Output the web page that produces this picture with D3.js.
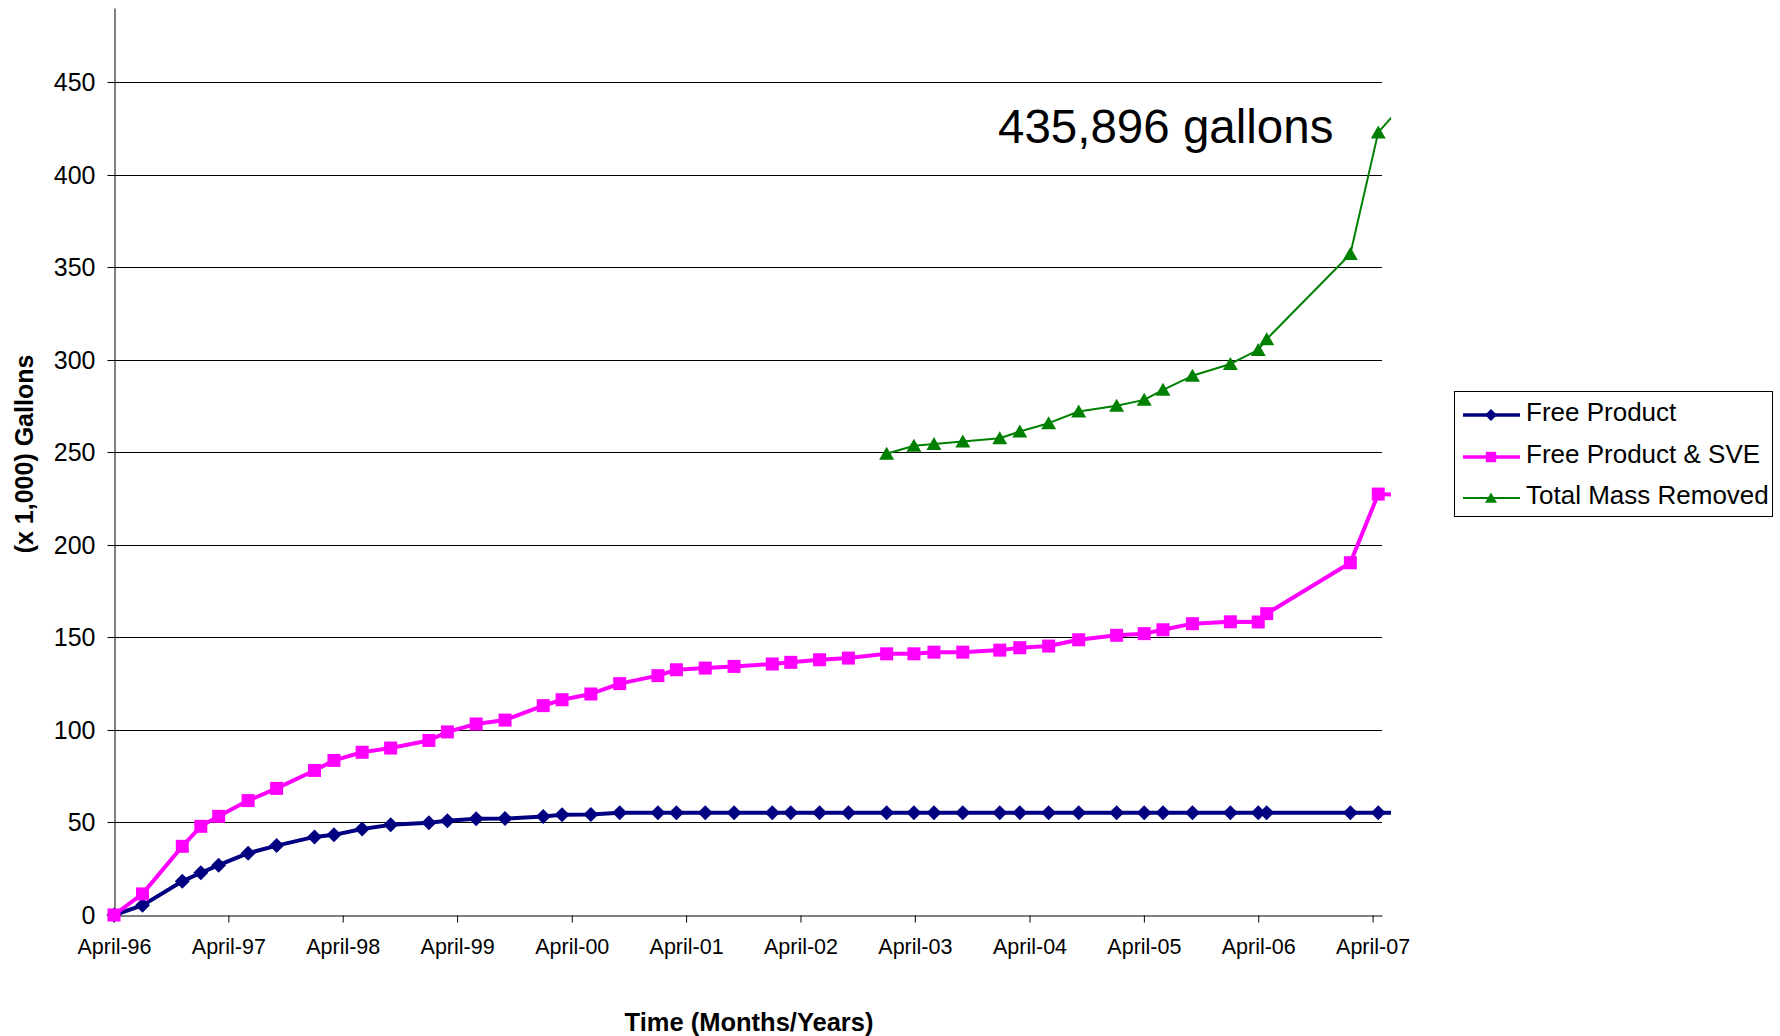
<!DOCTYPE html>
<html>
<head>
<meta charset="utf-8">
<script src="https://cdn.jsdelivr.net/npm/d3@7"></script>
<style>
  body { margin: 0; background: #fff; }
  svg { display: block; }
  text { font-family: Arial, "Liberation Sans", sans-serif; fill: #000; }
</style>
</head>
<body>
<svg id="chart" width="1780" height="1036"></svg>
<script>
// Sampling dates shared by all three cumulative series
const sampleDates = [
  "1996-04-01", "1996-07-01", "1996-11-05", "1997-01-03", "1997-03-01", "1997-06-03",
  "1997-09-02", "1998-01-01", "1998-03-04", "1998-06-02", "1998-09-01", "1999-01-01",
  "1999-03-01", "1999-06-01", "1999-09-01", "2000-01-01", "2000-03-01", "2000-06-01",
  "2000-09-01", "2001-01-01", "2001-03-01", "2001-06-01", "2001-09-01", "2002-01-01",
  "2002-03-01", "2002-06-01", "2002-09-01", "2003-01-01", "2003-03-29", "2003-06-01",
  "2003-09-01", "2003-12-28", "2004-03-01", "2004-06-01", "2004-09-05", "2005-01-04",
  "2005-04-02", "2005-06-01", "2005-09-03", "2006-01-02", "2006-04-01", "2006-04-28",
  "2007-01-20", "2007-04-19", "2007-06-27"
];

// Cumulative gallons recovered (x 1,000)
const freeProduct = [
  0, 5.2, 18.2, 22.8, 26.9, 33.4, 37.5, 42.2, 43.3, 46.5, 48.7, 49.8,
  50.9, 52.0, 52.1, 53.2, 54.2, 54.3, 55.3, 55.3, 55.3, 55.3, 55.3, 55.3,
  55.3, 55.3, 55.3, 55.3, 55.3, 55.3, 55.3, 55.3, 55.3, 55.3, 55.3, 55.3,
  55.3, 55.3, 55.3, 55.3, 55.3, 55.3, 55.3, 55.3, 55.3
];
const freeProductSVE = [
  0, 11.4, 37.1, 47.9, 53.3, 61.8, 68.4, 78.1, 83.5, 87.9, 90.2, 94.3,
  98.9, 103.2, 105.3, 113.1, 116.3, 119.4, 125.0, 129.3, 132.5, 133.4, 134.3, 135.6,
  136.5, 137.9, 138.8, 141.1, 141.1, 142.0, 142.0, 143.1, 144.4, 145.3, 148.7, 151.1,
  152.0, 154.1, 157.4, 158.4, 158.3, 162.8, 190.3, 227.4, 227.0
];
// Total mass removed is tracked from January 2003 onward
const totalMassFirstIndex = 27;
const totalMassRemoved = [
  249.2, 253.5, 254.5, 255.8, 257.6, 261.2, 265.7, 272.0, 275.1,
  278.3, 283.7, 291.3, 297.7, 305.3, 311.1, 357.1, 422.8, 435.896
];

const seriesNames = ["Free Product", "Free Product & SVE", "Total Mass Removed"];
const yTicks = [0, 50, 100, 150, 200, 250, 300, 350, 400, 450];
const xTickYears = [1996, 1997, 1998, 1999, 2000, 2001, 2002, 2003, 2004, 2005, 2006, 2007];
const totalLabel = "435,896 gallons";
const yTitle = "(x 1,000) Gallons";
const xTitle = "Time (Months/Years)";

const parse = d3.timeParse("%Y-%m-%d");
const dates = sampleDates.map(parse);

const svg = d3.select("#chart");
const plotLeft = 114, plotRight = 1382, plotBottom = 915, plotTop = 8;

const x = d3.scaleTime()
  .domain([new Date(1996, 3, 1), new Date(2007, 4, 1)])
  .range([plotLeft, plotRight]);
const y = d3.scaleLinear()
  .domain([0, 490])
  .range([plotBottom, plotTop]);

const crisp = v => Math.round(v) + 0.5;

// Horizontal gridlines
svg.append("g")
  .selectAll("line")
  .data(yTicks.filter(t => t > 0))
  .join("line")
  .attr("x1", plotLeft).attr("x2", plotRight)
  .attr("y1", d => crisp(y(d))).attr("y2", d => crisp(y(d)))
  .attr("stroke", "#000").attr("stroke-width", 1);

// Y axis
const yAxis = svg.append("g")
  .attr("transform", `translate(${plotLeft + 0.5},0)`)
  .call(d3.axisLeft(y).tickValues(yTicks).tickFormat(d3.format("d"))
    .tickSize(7).tickSizeOuter(0).tickPadding(12));
yAxis.select(".domain").attr("stroke", "#000");
yAxis.selectAll(".tick line").attr("stroke", "#000");
yAxis.selectAll(".tick").attr("transform", d => `translate(0,${crisp(y(d))})`);
yAxis.selectAll(".tick text")
  .attr("font-size", 25).attr("font-family", "Arial, 'Liberation Sans', sans-serif")
  .attr("fill", "#000");

// X axis
const xAxis = svg.append("g")
  .attr("transform", `translate(0,${plotBottom + 0.5})`)
  .call(d3.axisBottom(x)
    .tickValues(xTickYears.map(yr => new Date(yr, 3, 1)))
    .tickFormat(d3.timeFormat("April-%y"))
    .tickSize(7).tickSizeOuter(0).tickPadding(16));
xAxis.select(".domain").attr("stroke", "#000");
xAxis.selectAll(".tick line").attr("stroke", "#000");
xAxis.selectAll(".tick text")
  .attr("font-size", 21.5).attr("font-family", "Arial, 'Liberation Sans', sans-serif")
  .attr("fill", "#000");

// Axis titles
svg.append("text")
  .attr("transform", "translate(33,454) rotate(-90)")
  .attr("text-anchor", "middle")
  .attr("font-size", 25).attr("font-weight", "bold")
  .text(yTitle);
svg.append("text")
  .attr("x", 749).attr("y", 1031)
  .attr("text-anchor", "middle")
  .attr("font-size", 25.5).attr("font-weight", "bold")
  .text(xTitle);

// Series data
const fpData = dates.map((d, i) => ({ date: d, v: freeProduct[i] }));
const sveData = dates.map((d, i) => ({ date: d, v: freeProductSVE[i] }));
const totalData = totalMassRemoved.map((v, i) => ({ date: dates[totalMassFirstIndex + i], v }));

svg.append("clipPath").attr("id", "seriesClip")
  .append("rect").attr("x", 0).attr("y", 0).attr("width", 1391).attr("height", 1036);

const line = d3.line().x(d => x(d.date)).y(d => y(d.v));

const diamond = "M0,-7.5L7.5,0L0,7.5L-7.5,0Z";
const square = "M-6.5,-6.5H6.5V6.5H-6.5Z";
const triangle = "M0,-7L7.5,6L-7.5,6Z";

const seriesDefs = [
  { name: seriesNames[0], data: fpData, color: "#000080", width: 4, marker: diamond },
  { name: seriesNames[1], data: sveData, color: "#FF00FF", width: 4, marker: square },
  { name: seriesNames[2], data: totalData, color: "#008000", width: 2, marker: triangle }
];

const seriesG = svg.append("g").attr("clip-path", "url(#seriesClip)");
seriesDefs.forEach(s => {
  const g = seriesG.append("g");
  g.append("path")
    .datum(s.data)
    .attr("d", line)
    .attr("fill", "none")
    .attr("stroke", s.color)
    .attr("stroke-width", s.width)
    .attr("stroke-linejoin", "round");
  g.selectAll("path.marker")
    .data(s.data)
    .join("path")
    .attr("class", "marker")
    .attr("d", s.marker)
    .attr("transform", d => `translate(${x(d.date)},${y(d.v)})`)
    .attr("fill", s.color);
});

// Total label
svg.append("text")
  .attr("x", 998).attr("y", 143)
  .attr("font-size", 47.5)
  .text(totalLabel);

// Legend
const legend = svg.append("g");
legend.append("rect")
  .attr("x", 1454.5).attr("y", 391.5)
  .attr("width", 318).attr("height", 125)
  .attr("fill", "#fff").attr("stroke", "#000").attr("stroke-width", 1);
const rowBaselines = [421, 463, 504];
seriesDefs.forEach((s, i) => {
  const ly = rowBaselines[i] - 6;
  legend.append("line")
    .attr("x1", 1463).attr("x2", 1520)
    .attr("y1", ly).attr("y2", ly)
    .attr("stroke", s.color).attr("stroke-width", s.width === 2 ? 2 : 3.5);
  legend.append("path")
    .attr("d", s.marker)
    .attr("transform", `translate(1491,${ly}) scale(0.8)`)
    .attr("fill", s.color);
  legend.append("text")
    .attr("x", 1526).attr("y", rowBaselines[i])
    .attr("font-size", 26)
    .text(s.name);
});
</script>
</body>
</html>
